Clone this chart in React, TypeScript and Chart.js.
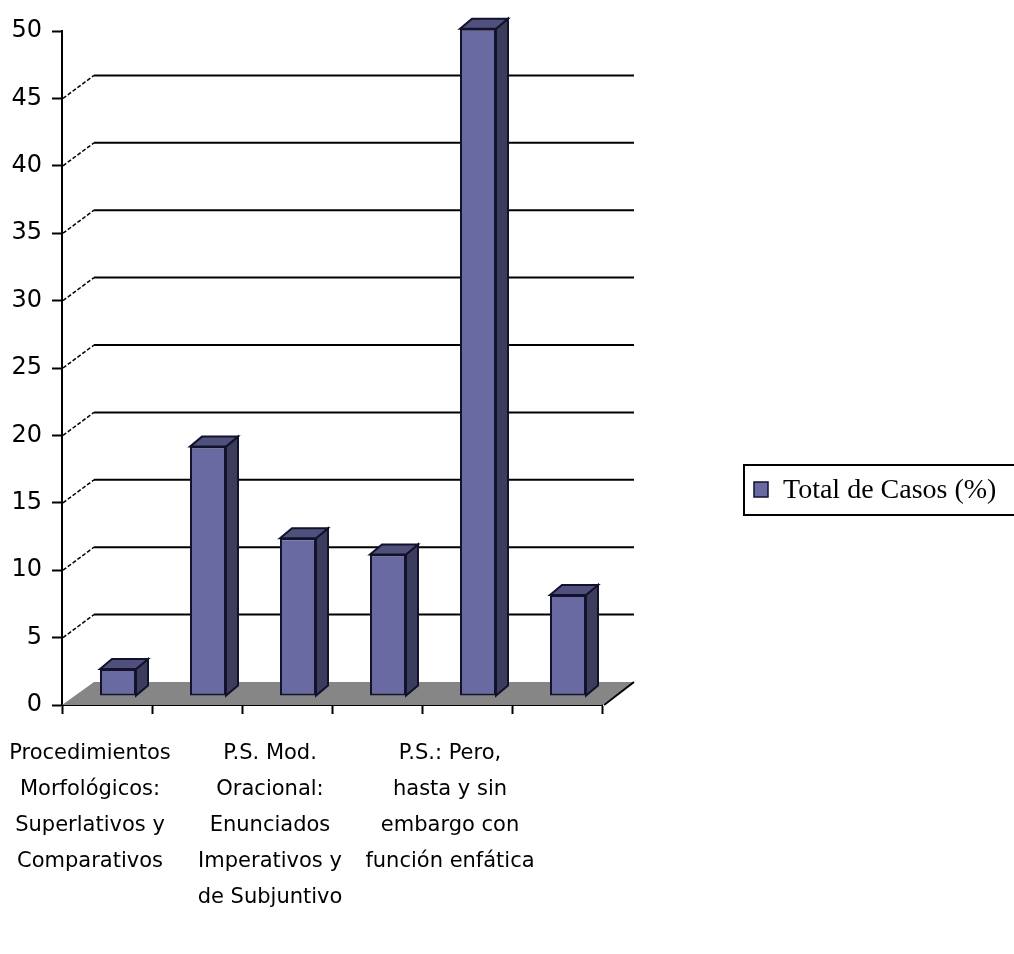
import React, { useEffect, useRef } from 'react';
import { Chart, registerables } from 'chart.js';

Chart.register(...registerables);

// ---- data ----
const categories: string[][] = [
  ['Procedimientos', 'Morfológicos:', 'Superlativos y', 'Comparativos'],
  [''],
  ['P.S. Mod.', 'Oracional:', 'Enunciados', 'Imperativos y', 'de Subjuntivo'],
  [''],
  ['P.S.: Pero,', 'hasta y sin', 'embargo con', 'función enfática'],
  [''],
];
const seriesLabel = 'Total de Casos (%)';
const seriesValues = [2.0, 18.5, 11.7, 10.5, 49.5, 7.5];
const yMin = 0;
const yMax = 50;
const yStep = 5;

// ---- styles ----
const FRONT = '#6a6aa2';
const SIDE = '#3c3c5c';
const TOP = '#50507c';
const EDGE = '#12122c';
const FLOOR = '#868686';

const WALL_DX = 32;
const WALL_DY = -23;
const BAR_SHIFT_X = 11;
const BAR_SHIFT_Y = -9;
const BAR_DX = 12;
const BAR_DY = -10;

const threeD = {
  id: 'threeD',
  beforeDatasetsDraw(chart: any) {
    const { ctx, chartArea, scales } = chart;
    const y = scales.y;
    const left = chartArea.left;
    const right = chartArea.right;
    const y0 = y.getPixelForValue(0);
    ctx.save();
    // floor
    ctx.beginPath();
    ctx.moveTo(left, y0);
    ctx.lineTo(right, y0);
    ctx.lineTo(right + WALL_DX, y0 + WALL_DY);
    ctx.lineTo(left + WALL_DX, y0 + WALL_DY);
    ctx.closePath();
    ctx.fillStyle = FLOOR;
    ctx.fill();
    ctx.strokeStyle = '#000';
    ctx.lineWidth = 2;
    ctx.beginPath();
    ctx.moveTo(right + 2, y0);
    ctx.lineTo(right + WALL_DX, y0 + WALL_DY);
    ctx.stroke();
    // back wall grid
    for (let v = yMin + yStep; v < yMax; v += yStep) {
      const py = y.getPixelForValue(v);
      ctx.setLineDash([4, 2]);
      ctx.lineWidth = 1.5;
      ctx.beginPath();
      ctx.moveTo(left + 1, py);
      ctx.lineTo(left + WALL_DX, py + WALL_DY);
      ctx.stroke();
      ctx.setLineDash([]);
      ctx.lineWidth = 2;
      ctx.beginPath();
      ctx.moveTo(left + WALL_DX, py + WALL_DY);
      ctx.lineTo(right + WALL_DX, py + WALL_DY);
      ctx.stroke();
    }
    // bar side and top faces
    const meta = chart.getDatasetMeta(0);
    ctx.translate(BAR_SHIFT_X, BAR_SHIFT_Y);
    ctx.lineWidth = 2;
    ctx.strokeStyle = EDGE;
    ctx.lineJoin = 'miter';
    meta.data.forEach((el: any) => {
      const p = el.getProps(['x', 'y', 'base', 'width'], true);
      const x1 = p.x - p.width / 2;
      const x2 = p.x + p.width / 2;
      const top = p.y;
      const base = p.base;
      ctx.beginPath();
      ctx.moveTo(x2, top);
      ctx.lineTo(x2 + BAR_DX, top + BAR_DY);
      ctx.lineTo(x2 + BAR_DX, base + BAR_DY);
      ctx.lineTo(x2, base);
      ctx.closePath();
      ctx.fillStyle = SIDE;
      ctx.fill();
      ctx.stroke();
      ctx.beginPath();
      ctx.moveTo(x1, top);
      ctx.lineTo(x1 + BAR_DX, top + BAR_DY);
      ctx.lineTo(x2 + BAR_DX, top + BAR_DY);
      ctx.lineTo(x2, top);
      ctx.closePath();
      ctx.fillStyle = TOP;
      ctx.fill();
      ctx.stroke();
    });
    ctx.restore();
  },
  beforeDatasetDraw(chart: any) {
    chart.ctx.save();
    chart.ctx.translate(BAR_SHIFT_X, BAR_SHIFT_Y);
  },
  afterDatasetDraw(chart: any) {
    chart.ctx.restore();
  },
  afterDraw(chart: any) {
    const { ctx } = chart;
    ctx.save();
    // legend
    ctx.strokeStyle = '#000';
    ctx.lineWidth = 2;
    ctx.strokeRect(744, 465, 300, 50);
    ctx.fillStyle = FRONT;
    ctx.fillRect(754, 482, 14, 15);
    ctx.strokeStyle = EDGE;
    ctx.lineWidth = 1.5;
    ctx.strokeRect(754, 482, 14, 15);
    ctx.fillStyle = '#000';
    ctx.font = '28px "Liberation Serif", serif';
    ctx.textBaseline = 'middle';
    ctx.textAlign = 'left';
    ctx.fillText(chart.data.datasets[0].label, 783, 491);
    ctx.restore();
  },
};

export default function App() {
  const ref = useRef<HTMLCanvasElement | null>(null);
  useEffect(() => {
    if (!ref.current) return;
    const chart = new Chart(ref.current, {
      type: 'bar',
      data: {
        labels: categories,
        datasets: [
          {
            label: seriesLabel,
            data: seriesValues,
            backgroundColor: FRONT,
            borderColor: EDGE,
            borderWidth: 2,
            borderSkipped: false,
            barPercentage: 0.4,
            categoryPercentage: 1,
            clip: false as any,
          },
        ],
      },
      options: {
        animation: false,
        responsive: false,
        devicePixelRatio: 1,
        layout: { padding: { left: 0, top: 31, right: 412, bottom: 0 } },
        plugins: { legend: { display: false }, tooltip: { enabled: false } },
        scales: {
          x: {
            afterFit: (s: any) => {
              s.height = 249;
            },
            border: { display: true, color: '#000', width: 2 },
            grid: {
              offset: true,
              drawOnChartArea: false,
              drawTicks: true,
              tickLength: 9,
              tickColor: '#000',
              tickWidth: 2,
            },
            ticks: {
              autoSkip: false,
              maxRotation: 0,
              minRotation: 0,
              padding: 21,
              labelOffset: -17,
              color: '#000',
              font: { family: '"DejaVu Sans", sans-serif', size: 21, lineHeight: 1.72 },
            },
          },
          y: {
            min: yMin,
            max: yMax,
            afterFit: (s: any) => {
              s.width = 62;
            },
            border: { display: true, color: '#000', width: 2 },
            grid: {
              drawOnChartArea: false,
              drawTicks: true,
              tickLength: 10,
              tickColor: '#000',
              tickWidth: 2,
            },
            ticks: {
              stepSize: yStep,
              padding: 10,
              color: '#000',
              font: { family: '"DejaVu Sans", sans-serif', size: 24 },
            },
          },
        },
      },
      plugins: [threeD],
    });
    return () => chart.destroy();
  }, []);
  return (
    <div style={{ position: 'absolute', left: 0, top: 0, width: 1014, height: 954, background: '#fff' }}>
      <canvas ref={ref} width={1014} height={954} style={{ display: 'block' }} />
    </div>
  );
}
